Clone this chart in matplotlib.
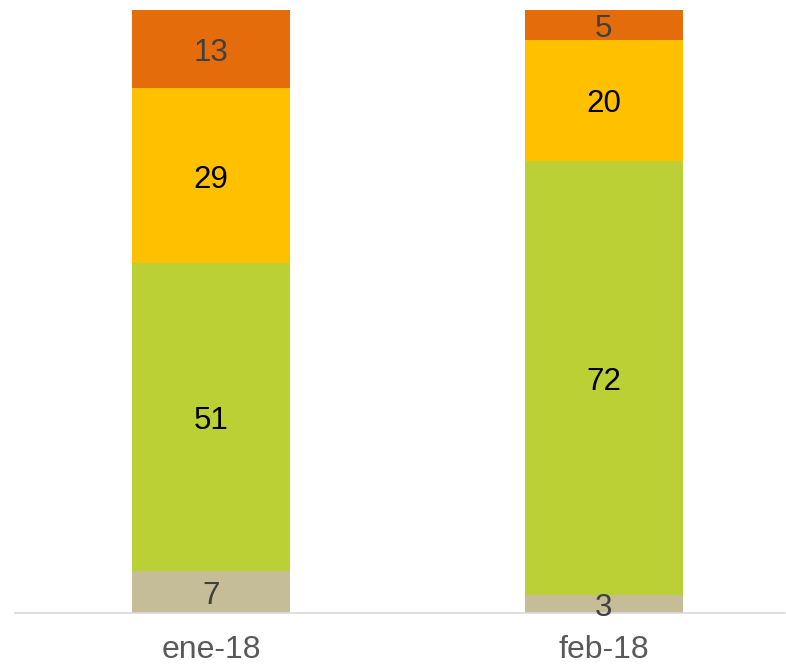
import matplotlib.pyplot as plt
import numpy as np

plt.rcParams['font.family'] = ['Liberation Sans', 'DejaVu Sans']

# data
categories = ['ene-18', 'feb-18']
s_beige = [7, 3]
s_green = [51, 72]
s_yellow = [29, 20]
s_orange = [13, 5]

series = [s_beige, s_green, s_yellow, s_orange]
colors = ['#C4BD97', '#BBD035', '#FFC000', '#E46C0A']
label_colors = ['#404040', '#000000', '#000000', '#404040']

fig = plt.figure(figsize=(7.86, 6.65), dpi=100)
ax = fig.add_axes([15/786, 52/665, 770/786, 603/665])

x = np.arange(len(categories))
bottom = np.zeros(len(categories))
for vals, c, lc in zip(series, colors, label_colors):
    vals = np.array(vals, dtype=float)
    bars = ax.bar(x, vals, width=0.403, bottom=bottom, color=c)
    for xi, v, b in zip(x, vals, bottom):
        ax.text(xi, b + v / 2 - 0.65, '{:g}'.format(v), ha='center', va='center',
                fontsize=22.5, color=lc)
    bottom += vals

ax.set_xlim(-0.5, 1.462)
ax.set_ylim(0, 100)
ax.set_xticks(x)
ax.set_xticklabels(categories, fontsize=23, color='#595959')
ax.tick_params(axis='x', length=0, pad=16)
ax.set_yticks([])
for s in ['top', 'right', 'left']:
    ax.spines[s].set_visible(False)
ax.spines['bottom'].set_color('#D9D9D9')
ax.spines['bottom'].set_linewidth(1.2)

fig.savefig('out.png', dpi=100)
